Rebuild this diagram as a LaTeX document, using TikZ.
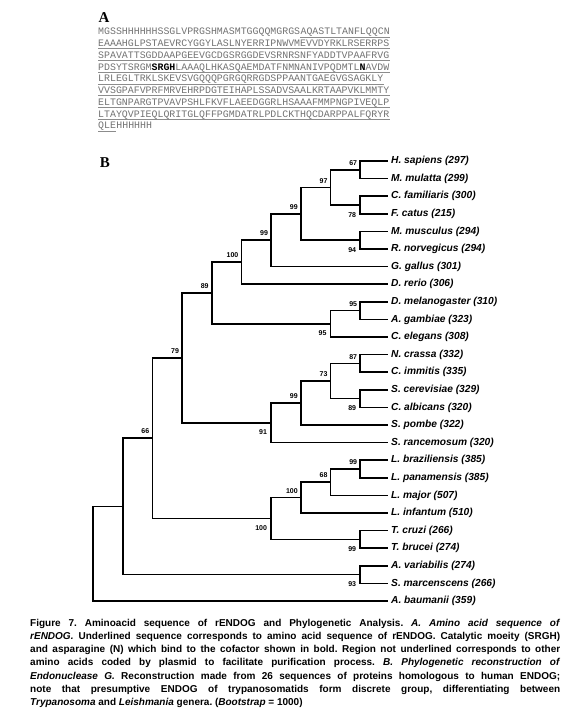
\documentclass[tikz,border=0pt]{standalone}
\usepackage{fontspec}
\setmainfont{Liberation Serif}
\setsansfont{Liberation Sans}
\newfontfamily\seqfont{Liberation Mono}
\newcommand\capline[1]{\makebox[530pt][s]{#1}}

\begin{document}
\begin{tikzpicture}[x=1pt, y=-1pt,
    panel/.style={inner sep=0pt, font=\bfseries\fontsize{15}{17}\selectfont},
    seq/.style={anchor=base west, inner sep=0pt, text=black!55, font=\seqfont\fontsize{9.9}{11}\selectfont},
    uline/.style={black!45, line width=0.6pt},
    branch/.style={line width=1.7pt},
    leaf/.style={anchor=west, inner xsep=3pt, inner ysep=1pt, font=\sffamily\bfseries\itshape\fontsize{10.2}{12}\selectfont},
    boot/.style={inner sep=0pt, font=\sffamily\bfseries\fontsize{7}{8}\selectfont},
    bootup/.style={boot, anchor=south east, xshift=-3pt, yshift=4pt},
    bootdn/.style={boot, anchor=north east, xshift=-4pt, yshift=-7pt}]
    \useasboundingbox (0,0) rectangle (579,721);

    % A: secuencia
    \node[panel] (labA) at (104,18) {A};
    \node[seq] (seq1a) at (98,34.8) {MGSSHHHHHHSSGLVPRGSHMASMTGGQQMGRGS};
    \node[seq] (seq1b) at (seq1a.base east) {AQASTLTANFLQQCN};
    \node[seq] (seq2) at (98,46.55) {EAAAHGLPSTAEVRCYGGYLASLNYERRIPNWVMEVVDYRKLRSERRPS};
    \node[seq] (seq3) at (98,58.3) {SPAVATTSGDDAAPGEEVGCDGSRGGDEVSRNRSNFYADDTVPAAFRVG};
    \node[seq] (seq4) at (98,70.05) {PDSYTSRGM{\bfseries\color{black}SRGH}LAAAQLHKASQAEMDATFNMNANIVPQDMTL{\bfseries\color{black}N}AVDW};
    \node[seq] (seq5) at (98,81.8) {LRLEGLTRKLSKEVSVGQQQPGRGQRRGDSPPAANTGAEGVGSAGKLY};
    \node[seq] (seq6) at (98,93.55) {VVSGPAFVPRFMRVEHRPDGTEIHAPLSSADVSAALKRTAAPVKLMMTY};
    \node[seq] (seq7) at (98,105.3) {ELTGNPARGTPVAVPSHLFKVFLAEEDGGRLHSAAAFMMPNGPIVEQLP};
    \node[seq] (seq8) at (98,117.05) {LTAYQVPIEQLQRITGLQFFPGMDATRLPDLCKTHQCDARPPALFQRYR};
    \node[seq] (seq9a) at (98,128.8) {QLE};
    \node[seq] (seq9b) at (seq9a.base east) {HHHHHH};
    \foreach \s in {seq1b,seq2,seq3,seq4,seq5,seq6,seq7,seq8,seq9a}
        \draw[uline] ([yshift=-2pt]\s.base west) -- ([yshift=-2pt]\s.base east);

    % B: arbol
    \node[panel] (labB) at (105,163) {B};

    % hojas
    \node[leaf] (hsap) at (388,161) {H. sapiens (297)};
    \node[leaf] (mmul) at (388,178.6) {M. mulatta (299)};
    \node[leaf] (cfam) at (388,196.2) {C. familiaris (300)};
    \node[leaf] (fcat) at (388,213.8) {F. catus (215)};
    \node[leaf] (mmus) at (388,231.4) {M. musculus (294)};
    \node[leaf] (rnor) at (388,249) {R. norvegicus (294)};
    \node[leaf] (ggal) at (388,266.6) {G. gallus (301)};
    \node[leaf] (drer) at (388,284.2) {D. rerio (306)};
    \node[leaf] (dmel) at (388,301.8) {D. melanogaster (310)};
    \node[leaf] (agam) at (388,319.4) {A. gambiae (323)};
    \node[leaf] (cele) at (388,337) {C. elegans (308)};
    \node[leaf] (ncra) at (388,354.6) {N. crassa (332)};
    \node[leaf] (cimm) at (388,372.2) {C. immitis (335)};
    \node[leaf] (scer) at (388,389.8) {S. cerevisiae (329)};
    \node[leaf] (calb) at (388,407.4) {C. albicans (320)};
    \node[leaf] (spom) at (388,425) {S. pombe (322)};
    \node[leaf] (sran) at (388,442.6) {S. rancemosum (320)};
    \node[leaf] (lbra) at (388,460.2) {L. braziliensis (385)};
    \node[leaf] (lpan) at (388,477.8) {L. panamensis (385)};
    \node[leaf] (lmaj) at (388,495.4) {L. major (507)};
    \node[leaf] (linf) at (388,513) {L. infantum (510)};
    \node[leaf] (tcru) at (388,530.6) {T. cruzi (266)};
    \node[leaf] (tbru) at (388,548.2) {T. brucei (274)};
    \node[leaf] (avar) at (388,565.8) {A. variabilis (274)};
    \node[leaf] (smar) at (388,583.4) {S. marcenscens (266)};
    \node[leaf] (abau) at (388,601) {A. baumanii (359)};

    % nodos internos
    \coordinate (root) at (93,553.7);
    \coordinate (inner) at (122.7,506.4);
    \coordinate (euk) at (152.4,438.2);
    \coordinate (opis) at (182.1,357.9);
    \coordinate (anim) at (211.8,293);
    \coordinate (vert) at (241.5,262.2);
    \coordinate (amni) at (271.2,240.2);
    \coordinate (mamm) at (300.9,213.8);
    \coordinate (primcarn) at (330.6,187.4);
    \coordinate (prim) at (360.3,169.8);
    \coordinate (carn) at (360.3,205);
    \coordinate (rod) at (360.3,240.2);
    \coordinate (invert) at (330.6,323.8);
    \coordinate (ins) at (360.3,310.6);
    \coordinate (fung) at (271.2,422.8);
    \coordinate (fungA) at (300.9,403);
    \coordinate (asco) at (330.6,381);
    \coordinate (sord) at (360.3,363.4);
    \coordinate (yeast) at (360.3,398.6);
    \coordinate (kine) at (271.2,518.5);
    \coordinate (leish) at (300.9,497.6);
    \coordinate (lmajg) at (330.6,482.2);
    \coordinate (lviann) at (360.3,469);
    \coordinate (tryp) at (360.3,539.4);
    \coordinate (bact) at (360.3,574.6);

    % ramas
    \foreach \p/\c in {root/inner, root/abau.west, inner/euk, inner/bact,
        euk/opis, euk/kine, opis/anim, opis/fung, anim/vert, anim/invert,
        vert/amni, vert/drer.west, amni/mamm, amni/ggal.west,
        mamm/primcarn, mamm/rod, primcarn/prim, primcarn/carn,
        prim/hsap.west, prim/mmul.west, carn/cfam.west, carn/fcat.west,
        rod/mmus.west, rod/rnor.west, invert/ins, invert/cele.west,
        ins/dmel.west, ins/agam.west, fung/fungA, fung/sran.west,
        fungA/asco, fungA/spom.west, asco/sord, asco/yeast,
        sord/ncra.west, sord/cimm.west, yeast/scer.west, yeast/calb.west,
        kine/leish, kine/tryp, leish/lmajg, leish/linf.west,
        lmajg/lviann, lmajg/lmaj.west, lviann/lbra.west, lviann/lpan.west,
        tryp/tcru.west, tryp/tbru.west, bact/avar.west, bact/smar.west}
        \draw[branch] (\p) |- (\c);

    % bootstrap
    \foreach \c/\v in {prim/67, primcarn/97, mamm/99, amni/99, vert/100, anim/89,
        ins/95, sord/87, asco/73, fungA/99, opis/79, lviann/99, lmajg/68,
        leish/100, euk/66}
        \node[bootup] (b\c) at (\c) {\v};
    \foreach \c/\v in {carn/78, rod/94, invert/95, yeast/89, fung/91,
        kine/100, tryp/99, bact/93}
        \node[bootdn] (b\c) at (\c) {\v};

    % leyenda
    \node[anchor=north west, inner sep=0pt, align=left,
        font=\sffamily\bfseries\fontsize{10}{13.17}\selectfont\frenchspacing] (caption) at (30,619) {%
        \capline{Figure 7. Aminoacid sequence of rENDOG and Phylogenetic Analysis. \textit{A. Amino acid sequence of}}\\
        \capline{\textit{rENDOG.} Underlined sequence corresponds to amino acid sequence of rENDOG. Catalytic moeity (SRGH)}\\
        \capline{and asparagine (N) which bind to the cofactor shown in bold. Region not underlined corresponds to other}\\
        \capline{amino acids coded by plasmid to facilitate purification process. \textit{B. Phylogenetic reconstruction of}}\\
        \capline{\textit{Endonuclease G.} Reconstruction made from 26 sequences of proteins homologous to human ENDOG;}\\
        \capline{note that presumptive ENDOG of trypanosomatids form discrete group, differentiating between}\\
        \textit{Trypanosoma} and \textit{Leishmania} genera. (\textit{Bootstrap} = 1000)};
\end{tikzpicture}
\end{document}
